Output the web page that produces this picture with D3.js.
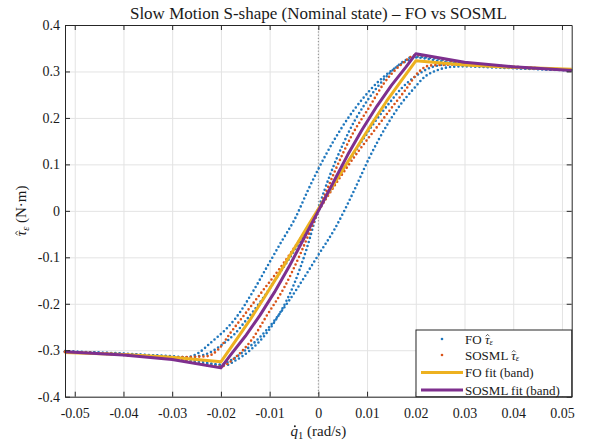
<!DOCTYPE html>
<html>
<head>
<meta charset="utf-8">
<script src="https://cdn.jsdelivr.net/npm/d3@7"></script>
<style>
  body { margin: 0; background: #fff; }
  svg, svg text { font-family: "Liberation Serif", "Times New Roman", serif; }
</style>
</head>
<body>
<div id="chart"></div>
<script>
// ---- data ----
const xTicks = [-0.05, -0.04, -0.03, -0.02, -0.01, 0, 0.01, 0.02, 0.03, 0.04, 0.05];
const xTickLabels = ["-0.05", "-0.04", "-0.03", "-0.02", "-0.01", "0", "0.01", "0.02", "0.03", "0.04", "0.05"];
const yTicks = [-0.4, -0.3, -0.2, -0.1, 0, 0.1, 0.2, 0.3, 0.4];
const yTickLabels = ["-0.4", "-0.3", "-0.2", "-0.1", "0", "0.1", "0.2", "0.3", "0.4"];

// FO scatter, one array per sweep branch [qdot, tau]
const foBranchOuterLeft = [
  [-0.052, -0.302], [-0.045, -0.305], [-0.040, -0.307], [-0.035, -0.310], [-0.030, -0.313],
  [-0.027, -0.315], [-0.0245, -0.305], [-0.022, -0.283], [-0.019, -0.255], [-0.0172, -0.234],
  [-0.0135, -0.175], [-0.0104, -0.118], [-0.0075, -0.065], [-0.0049, -0.019], [-0.0021, 0.045],
  [0.000, 0.090], [0.003, 0.148], [0.006, 0.198], [0.009, 0.240], [0.012, 0.275],
  [0.015, 0.302], [0.018, 0.322], [0.020, 0.330], [0.025, 0.322], [0.030, 0.315],
  [0.040, 0.308], [0.052, 0.303]
];
const foBranchOuterRight = [
  [-0.052, -0.303], [-0.040, -0.308], [-0.030, -0.315], [-0.025, -0.322], [-0.020, -0.331],
  [-0.018, -0.322], [-0.015, -0.300], [-0.012, -0.272], [-0.009, -0.236], [-0.006, -0.193],
  [-0.003, -0.145], [0.000, -0.095], [0.0033, -0.040], [0.0074, 0.045], [0.0104, 0.113],
  [0.0144, 0.190], [0.0171, 0.232], [0.0195, 0.262], [0.0219, 0.289], [0.0245, 0.303],
  [0.0274, 0.310], [0.030, 0.311], [0.035, 0.309], [0.040, 0.307], [0.045, 0.305], [0.052, 0.302]
];
const foBranchInnerSteep = [
  [-0.052, -0.303], [-0.040, -0.310], [-0.030, -0.318], [-0.019, -0.332], [-0.017, -0.322],
  [-0.014, -0.300], [-0.011, -0.268], [-0.008, -0.222], [-0.005, -0.158], [-0.0025, -0.085],
  [0.000, 0.005], [0.0025, 0.080], [0.005, 0.142], [0.0075, 0.195], [0.0092, 0.224],
  [0.012, 0.265], [0.015, 0.300], [0.018, 0.325], [0.0195, 0.332], [0.030, 0.318],
  [0.040, 0.310], [0.052, 0.303]
];
const foBranchInnerFlat = [
  [-0.052, -0.303], [-0.040, -0.308], [-0.030, -0.315], [-0.0275, -0.316], [-0.0235, -0.310],
  [-0.020, -0.290], [-0.0171, -0.264], [-0.0148, -0.235], [-0.0115, -0.190], [-0.008, -0.135],
  [-0.004, -0.070], [0.000, 0.000], [0.004, 0.070], [0.008, 0.135], [0.0115, 0.190],
  [0.0148, 0.235], [0.0171, 0.264], [0.020, 0.290], [0.0235, 0.310], [0.0275, 0.316],
  [0.030, 0.315], [0.040, 0.308], [0.052, 0.303]
];

// SOSML scatter
const sosmlBranchSteep = [
  [-0.052, -0.303], [-0.040, -0.310], [-0.030, -0.318], [-0.020, -0.335], [-0.017, -0.315],
  [-0.0135, -0.275], [-0.0105, -0.224], [-0.0069, -0.163], [-0.0035, -0.088], [0.000, 0.000],
  [0.0035, 0.088], [0.0069, 0.163], [0.0105, 0.224], [0.0135, 0.275], [0.017, 0.315],
  [0.020, 0.335], [0.030, 0.318], [0.040, 0.310], [0.052, 0.303]
];
const sosmlBranchFlat = [
  [-0.052, -0.304], [-0.040, -0.309], [-0.030, -0.315], [-0.023, -0.313], [-0.0205, -0.298],
  [-0.018, -0.262], [-0.0152, -0.224], [-0.012, -0.180], [-0.008, -0.125], [-0.004, -0.065],
  [0.000, 0.000], [0.004, 0.065], [0.008, 0.125], [0.012, 0.180], [0.0152, 0.224],
  [0.018, 0.262], [0.0205, 0.298], [0.023, 0.313], [0.030, 0.315], [0.040, 0.309], [0.052, 0.304]
];

// fitted curves
const foFit = [
  [-0.052, -0.305], [-0.040, -0.309], [-0.030, -0.315], [-0.020, -0.325], [-0.017, -0.280],
  [-0.014, -0.234], [-0.011, -0.185], [-0.008, -0.134], [-0.005, -0.082], [-0.002, -0.030],
  [0.000, 0.004], [0.002, 0.038], [0.005, 0.088], [0.008, 0.138], [0.011, 0.188],
  [0.014, 0.236], [0.017, 0.280], [0.020, 0.323], [0.030, 0.314], [0.040, 0.309], [0.052, 0.305]
];
const sosmlFit = [
  [-0.052, -0.303], [-0.040, -0.310], [-0.030, -0.320], [-0.020, -0.338], [-0.018, -0.310],
  [-0.015, -0.270], [-0.012, -0.225], [-0.009, -0.175], [-0.006, -0.120], [-0.003, -0.060],
  [0.000, 0.000], [0.003, 0.060], [0.006, 0.120], [0.009, 0.175], [0.012, 0.225],
  [0.015, 0.270], [0.018, 0.310], [0.020, 0.338], [0.030, 0.320], [0.040, 0.310], [0.052, 0.302]
];

const foBranches = [foBranchOuterLeft, foBranchOuterRight, foBranchInnerSteep, foBranchInnerFlat];
const sosmlBranches = [sosmlBranchSteep, sosmlBranchFlat];

// ---- layout ----
const W = 590, H = 440;
const margin = { top: 25, right: 18.3, bottom: 43.3, left: 65 };
const width = W - margin.left - margin.right;
const height = H - margin.top - margin.bottom;
const serifFont = '"Liberation Serif", "Times New Roman", serif';

const colors = {
  fo: "#1f77bd",
  sosml: "#d95319",
  foFit: "#edb120",
  sosmlFit: "#7e2f8e",
  axis: "#262626",
  grid: "#e3e3e3",
  text: "#1a1a1a"
};

const svg = d3.select("#chart").append("svg")
  .attr("width", W).attr("height", H)
  .attr("font-family", serifFont);

const g = svg.append("g").attr("transform", `translate(${margin.left},${margin.top})`);

const x = d3.scaleLinear().domain([-0.052, 0.052]).range([0, width]);
const y = d3.scaleLinear().domain([-0.4, 0.4]).range([height, 0]);

// grid
g.append("g")
  .attr("transform", `translate(0,${height})`)
  .call(d3.axisBottom(x).tickValues(xTicks).tickSize(-height).tickFormat(""))
  .call(s => s.select(".domain").remove())
  .call(s => s.selectAll("line").attr("stroke", colors.grid));
g.append("g")
  .call(d3.axisLeft(y).tickValues(yTicks).tickSize(-width).tickFormat(""))
  .call(s => s.select(".domain").remove())
  .call(s => s.selectAll("line").attr("stroke", colors.grid));

// zero line
g.append("line")
  .attr("x1", x(0)).attr("x2", x(0))
  .attr("y1", 0).attr("y2", height)
  .attr("stroke", "#8a8a8a").attr("stroke-width", 1)
  .attr("stroke-dasharray", "1.2,2");

// scatter branches drawn as dense dots
const dotLine = d3.line()
  .x(d => x(d[0]))
  .y(d => y(d[1]))
  .curve(d3.curveMonotoneX);

function drawDots(data, color) {
  g.append("g").selectAll("path")
    .data(data)
    .join("path")
    .attr("d", dotLine)
    .attr("fill", "none")
    .attr("stroke", color)
    .attr("stroke-width", 2.6)
    .attr("stroke-linecap", "round")
    .attr("stroke-dasharray", "0,4.2");
}
drawDots(foBranches, colors.fo);
drawDots(sosmlBranches, colors.sosml);

// fits
const fitLine = d3.line().x(d => x(d[0])).y(d => y(d[1]));

[[foFit, colors.foFit], [sosmlFit, colors.sosmlFit]].forEach(([data, color]) => {
  g.append("path").datum(data)
    .attr("d", fitLine)
    .attr("fill", "none")
    .attr("stroke", color)
    .attr("stroke-width", 3)
    .attr("stroke-linejoin", "round");
});

// axes: inward ticks on all four sides
const tickLen = 5;
const xAxis = g.append("g")
  .attr("transform", `translate(0,${height})`)
  .call(d3.axisBottom(x).tickValues(xTicks)
    .tickSizeInner(-tickLen).tickSizeOuter(0).tickPadding(11)
    .tickFormat((d, i) => xTickLabels[i]));
const yAxis = g.append("g")
  .call(d3.axisLeft(y).tickValues(yTicks)
    .tickSizeInner(-tickLen).tickSizeOuter(0).tickPadding(5)
    .tickFormat((d, i) => yTickLabels[i]));
const xTop = g.append("g")
  .call(d3.axisTop(x).tickValues(xTicks).tickSizeInner(-tickLen).tickSizeOuter(0).tickFormat(""));
const yRight = g.append("g")
  .attr("transform", `translate(${width},0)`)
  .call(d3.axisRight(y).tickValues(yTicks).tickSizeInner(-tickLen).tickSizeOuter(0).tickFormat(""));

[xAxis, yAxis, xTop, yRight].forEach(a => {
  a.attr("font-family", serifFont).attr("font-size", 14);
  a.selectAll(".domain").attr("stroke", colors.axis);
  a.selectAll(".tick line").attr("stroke", colors.axis);
  a.selectAll(".tick text")
    .attr("fill", colors.text)
    .style("font-family", serifFont);
});

// helper: append italic symbol + subscript as tspans, then draw its accent
function appendMath(textSel, parent, size, base, accent, sub, subItalic, baselineY) {
  const before = textSel.text().length;
  textSel.append("tspan").attr("font-style", "italic").text(base);
  textSel.append("tspan")
    .attr("font-size", size * 0.65)
    .attr("font-style", subItalic ? "italic" : "normal")
    .attr("dy", size * 0.15).text(sub);
  const ext = textSel.node().getExtentOfChar(before);
  const cx = ext.x + ext.width * 0.58;
  if (accent === "hat") {
    parent.append("path")
      .attr("d", `M${cx - size * 0.14},${baselineY - size * 0.56} L${cx},${baselineY - size * 0.7} L${cx + size * 0.14},${baselineY - size * 0.56}`)
      .attr("fill", "none").attr("stroke", colors.text).attr("stroke-width", size * 0.055);
  } else {
    parent.append("circle")
      .attr("cx", cx).attr("cy", baselineY - size * 0.62).attr("r", size * 0.065)
      .attr("fill", colors.text);
  }
}

// title
svg.append("text")
  .attr("x", margin.left + width / 2)
  .attr("y", 19)
  .attr("text-anchor", "middle")
  .attr("font-size", 17)
  .attr("fill", colors.text)
  .text("Slow Motion S-shape (Nominal state) \u2013 FO vs SOSML");

// x label
{
  const lab = svg.append("g").attr("transform", `translate(${margin.left + width / 2},435.5)`);
  const t = lab.append("text").attr("x", 0).attr("y", 0)
    .attr("text-anchor", "middle").attr("font-size", 15).attr("fill", colors.text);
  t.append("tspan").attr("font-style", "italic").text("q");
  t.append("tspan").attr("font-size", 10.5).attr("dy", 3.3).text("1");
  t.append("tspan").attr("dy", -3.3).text(" (rad/s)");
  const ext = t.node().getExtentOfChar(0);
  lab.append("circle").attr("cx", ext.x + ext.width * 0.58).attr("cy", -15 * 0.62)
    .attr("r", 15 * 0.065).attr("fill", colors.text);
}

// y label
{
  const lab = svg.append("g").attr("transform", `translate(26,${margin.top + height / 2}) rotate(-90)`);
  const t = lab.append("text").attr("x", 0).attr("y", 0)
    .attr("text-anchor", "middle").attr("font-size", 15).attr("fill", colors.text);
  t.append("tspan").attr("font-style", "italic").text("\u03c4");
  t.append("tspan").attr("font-size", 10.5).attr("font-style", "italic").attr("dy", 3.3).text("\u03b5");
  t.append("tspan").attr("dy", -3.3).text(" (N\u00b7m)");
  const ext = t.node().getExtentOfChar(0);
  const cx = ext.x + ext.width * 0.58;
  lab.append("path")
    .attr("d", `M${cx - 2.1},${-8.4} L${cx},${-10.5} L${cx + 2.1},${-8.4}`)
    .attr("fill", "none").attr("stroke", colors.text).attr("stroke-width", 0.85);
}

// legend
const leg = svg.append("g").attr("transform", `translate(416,330)`);
leg.append("rect")
  .attr("width", margin.left + width - 416)
  .attr("height", margin.top + height - 330)
  .attr("fill", "#fff")
  .attr("stroke", colors.axis)
  .attr("stroke-width", 1);

const legendItems = [
  { kind: "dot", color: colors.fo, label: "FO", tau: true },
  { kind: "dot", color: colors.sosml, label: "SOSML", tau: true },
  { kind: "line", color: colors.foFit, label: "FO fit (band)", tau: false },
  { kind: "line", color: colors.sosmlFit, label: "SOSML fit (band)", tau: false }
];
const rowY = [9, 25, 42.5, 60];

legendItems.forEach((it, i) => {
  const row = leg.append("g").attr("transform", `translate(0,${rowY[i]})`);
  if (it.kind === "dot") {
    row.append("circle").attr("cx", 26).attr("cy", 0).attr("r", 1.3).attr("fill", it.color);
  } else {
    row.append("line").attr("x1", 5).attr("x2", 47).attr("y1", 0).attr("y2", 0)
      .attr("stroke", it.color).attr("stroke-width", 3);
  }
  const t = row.append("text")
    .attr("x", 49).attr("y", 4.5)
    .attr("font-size", 13)
    .attr("fill", colors.text)
    .text(it.label + (it.tau ? " " : ""));
  if (it.tau) {
    appendMath(t, row, 13, "\u03c4", "hat", "\u03b5", true, 4.5);
  }
});
</script>
</body>
</html>
